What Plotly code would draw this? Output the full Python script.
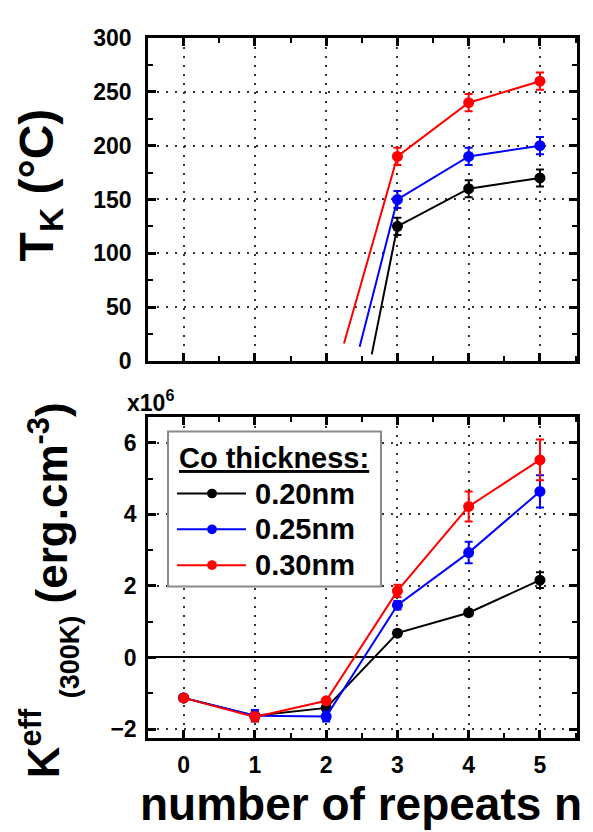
import plotly.graph_objects as go

# ---------------- data ----------------
thickness_labels = ["0.20nm", "0.25nm", "0.30nm"]
series_colors = ["#000000", "#0000ff", "#ff0000"]

# Blocking temperature T_K (deg C) for n = 3..5 repeats
tk_repeats = [3, 4, 5]
tk_020 = [125, 160, 170]
tk_025 = [150, 190, 200]
tk_030 = [190, 240, 260]
tk_err_020 = [8, 8, 8]
tk_err_025 = [8, 8, 8]
tk_err_030 = [8, 8, 8]
# Onset of each guide line below n = 3 (repeats, T_K)
tk_onset_n = [2.64, 2.47, 2.25]
tk_onset_val = [6, 13, 16]

# Effective anisotropy K_eff at 300 K (x10^6 erg.cm^-3) for n = 0..5
repeats = [0, 1, 2, 3, 4, 5]
keff_020 = [-1.13, -1.63, -1.41, 0.68, 1.25, 2.16]
keff_025 = [-1.13, -1.63, -1.65, 1.46, 2.93, 4.64]
keff_030 = [-1.13, -1.66, -1.21, 1.86, 4.22, 5.52]
keff_err_020 = [0.05, 0.10, 0.08, 0.08, 0.08, 0.22]
keff_err_025 = [0.05, 0.16, 0.14, 0.12, 0.30, 0.45]
keff_err_030 = [0.05, 0.12, 0.08, 0.17, 0.42, 0.57]

tk_values = [tk_020, tk_025, tk_030]
tk_errors = [tk_err_020, tk_err_025, tk_err_030]
keff_values = [keff_020, keff_025, keff_030]
keff_errors = [keff_err_020, keff_err_025, keff_err_030]

# ---------------- page geometry ----------------
W, H = 593, 832


def px(x):
    return x / W


def py(y):
    return 1 - y / H


FONT = "Liberation Sans, Arial, sans-serif"

fig = go.Figure()

# Top panel: T_K vs n
for i in range(3):
    fig.add_trace(go.Scatter(
        x=[tk_onset_n[i]] + tk_repeats,
        y=[tk_onset_val[i]] + tk_values[i],
        mode="lines", line=dict(color=series_colors[i], width=2),
        xaxis="x", yaxis="y", showlegend=False, hoverinfo="skip",
    ))
    fig.add_trace(go.Scatter(
        x=tk_repeats, y=tk_values[i], mode="markers",
        marker=dict(color=series_colors[i], size=11),
        error_y=dict(type="data", array=tk_errors[i], color=series_colors[i],
                     thickness=2, width=4),
        xaxis="x", yaxis="y", showlegend=False,
    ))

# Bottom panel: K_eff vs n
for i in range(3):
    fig.add_trace(go.Scatter(
        x=repeats, y=keff_values[i], mode="lines+markers",
        name=thickness_labels[i],
        line=dict(color=series_colors[i], width=2),
        marker=dict(color=series_colors[i], size=11),
        error_y=dict(type="data", array=keff_errors[i], color=series_colors[i],
                     thickness=2, width=4),
        xaxis="x2", yaxis="y2", showlegend=False,
    ))

x_dom = [px(148), px(577)]
axis_common = dict(
    showline=True, linecolor="black", linewidth=2.5, mirror="allticks",
    ticks="inside", ticklen=8, tickwidth=2.5, tickcolor="black",
    showgrid=True, gridcolor="#333333", gridwidth=2, griddash="2px,7px",
    zeroline=False,
    tickfont=dict(family=FONT, size=23, color="black", weight="bold"),
)

fig.update_layout(
    width=W, height=H,
    margin=dict(l=0, r=0, t=0, b=0),
    paper_bgcolor="white", plot_bgcolor="white",
    font=dict(family=FONT, color="black", weight="bold"),
    showlegend=False,
    xaxis=dict(axis_common, domain=x_dom, anchor="y", range=[-0.5, 5.52],
               tick0=0, dtick=1, showticklabels=False,
               minor=dict(ticks="inside", ticklen=5, tickwidth=2,
                          tickcolor="black", dtick=0.5, showgrid=False)),
    yaxis=dict(axis_common, domain=[py(359), py(26)], anchor="x",
               range=[0, 300], tick0=0, dtick=50, ticklabelstandoff=9,
               minor=dict(ticks="inside", ticklen=5, tickwidth=2,
                          tickcolor="black", dtick=25, showgrid=False)),
    xaxis2=dict(axis_common, domain=x_dom, anchor="y2", range=[-0.5, 5.52],
                tick0=0, dtick=1, ticklabelstandoff=5,
                minor=dict(ticks="inside", ticklen=5, tickwidth=2,
                           tickcolor="black", dtick=0.5, showgrid=False)),
    yaxis2=dict(axis_common, domain=[py(748), py(417)], anchor="x2",
                range=[-2.24, 6.72], tick0=0, dtick=2, ticklabelstandoff=4,
                zeroline=True, zerolinecolor="black", zerolinewidth=2,
                minor=dict(ticks="inside", ticklen=5, tickwidth=2,
                           tickcolor="black", dtick=1, showgrid=False)),
)

shapes = []
annotations = []

# Legend box with its sample lines and markers
shapes.append(dict(type="rect", xref="paper", yref="paper",
                   x0=px(168), x1=px(381), y0=py(592), y1=py(432),
                   fillcolor="white", line=dict(color="#8a8a8a", width=2),
                   layer="above"))
annotations.append(dict(
    xref="paper", yref="paper", x=px(177), y=py(459),
    xanchor="left", yanchor="middle", showarrow=False,
    text="<u>Co thickness:</u>",
    font=dict(family=FONT, size=29, color="black", weight="bold"),
))
entry_y = [496, 533, 570]
for i in range(3):
    shapes.append(dict(type="line", xref="paper", yref="paper",
                       x0=px(177), x1=px(246), y0=py(entry_y[i]), y1=py(entry_y[i]),
                       line=dict(color=series_colors[i], width=2), layer="above"))
    shapes.append(dict(type="circle", xref="paper", yref="paper",
                       x0=px(207), x1=px(217), y0=py(entry_y[i] + 5), y1=py(entry_y[i] - 5),
                       fillcolor=series_colors[i], line=dict(color=series_colors[i], width=0),
                       layer="above"))
    annotations.append(dict(
        xref="paper", yref="paper", x=px(253), y=py(entry_y[i]),
        xanchor="left", yanchor="middle", showarrow=False,
        text=thickness_labels[i],
        font=dict(family=FONT, size=29, color="black", weight="bold"),
    ))

# Axis titles
annotations.append(dict(
    xref="paper", yref="paper", x=px(40), y=py(178),
    xanchor="center", yanchor="middle", showarrow=False, textangle=-90,
    text="T<sub>K</sub> (°C)",
    font=dict(family=FONT, size=48, color="black", weight="bold"),
))
annotations.append(dict(
    xref="paper", yref="paper", x=px(40), y=py(792),
    xanchor="center", yanchor="bottom", showarrow=False, textangle=-90,
    text="K<sup>eff</sup>",
    font=dict(family=FONT, size=44, color="black", weight="bold"),
))
annotations.append(dict(
    xref="paper", yref="paper", x=px(70), y=py(710),
    xanchor="center", yanchor="bottom", showarrow=False, textangle=-90,
    text="(300K)",
    font=dict(family=FONT, size=27, color="black", weight="bold"),
))
annotations.append(dict(
    xref="paper", yref="paper", x=px(48), y=py(612),
    xanchor="center", yanchor="bottom", showarrow=False, textangle=-90,
    text="(erg.cm<sup>-3</sup>)",
    font=dict(family=FONT, size=44, color="black", weight="bold"),
))
annotations.append(dict(
    xref="paper", yref="paper", x=px(361), y=py(817),
    xanchor="center", yanchor="middle", showarrow=False,
    text="number of repeats n",
    font=dict(family=FONT, size=46, color="black", weight="bold"),
))
annotations.append(dict(
    xref="paper", yref="paper", x=px(125), y=py(400),
    xanchor="left", yanchor="middle", showarrow=False,
    text="x10<sup>6</sup>",
    font=dict(family=FONT, size=23, color="black", weight="bold"),
))

fig.update_layout(shapes=shapes, annotations=annotations)

fig.write_html("out.html")
